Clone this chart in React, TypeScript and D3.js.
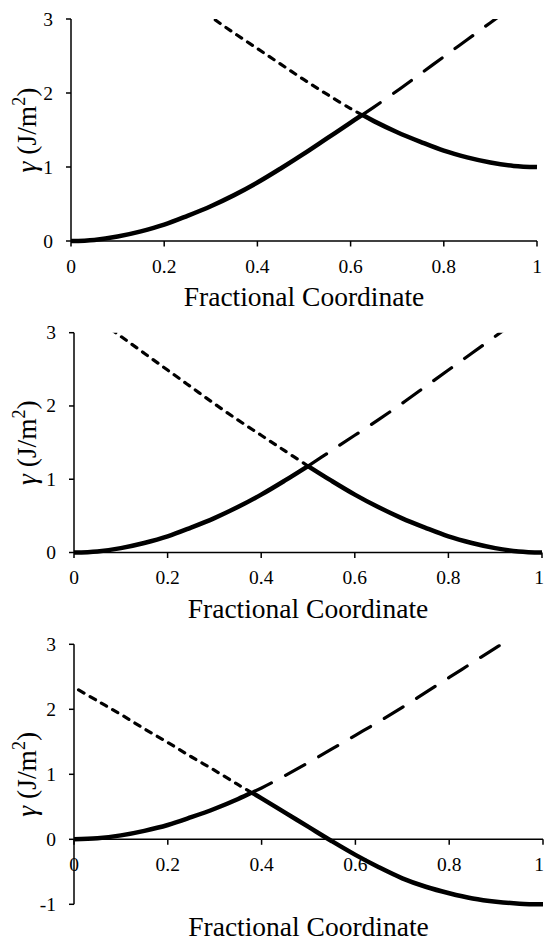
import React from "react";
import * as d3 from "d3";

// fractional coordinate grid and the energies (J/m^2)
const coord = [0, 0.05, 0.1, 0.15, 0.2, 0.25, 0.3, 0.35, 0.4, 0.45, 0.5, 0.55, 0.6, 0.65, 0.7, 0.75, 0.8, 0.85, 0.9, 0.95, 1];
const rising = [0, 0.015, 0.06, 0.13, 0.22, 0.34, 0.47, 0.62, 0.79, 0.98, 1.18, 1.39, 1.6, 1.81, 2.03, 2.26, 2.49, 2.72, 2.95, 3.18, 3.41];
const fallingTop = [4.41, 4.18, 3.95, 3.72, 3.49, 3.26, 3.03, 2.81, 2.6, 2.39, 2.18, 1.98, 1.79, 1.62, 1.47, 1.34, 1.22, 1.13, 1.06, 1.015, 1];
const fallingMid = [3.41, 3.18, 2.95, 2.72, 2.49, 2.26, 2.03, 1.81, 1.6, 1.39, 1.18, 0.98, 0.79, 0.62, 0.47, 0.34, 0.22, 0.13, 0.06, 0.015, 0];
const fallingLow = [2.34, 2.13, 1.92, 1.7, 1.49, 1.27, 1.06, 0.84, 0.63, 0.41, 0.19, -0.03, -0.24, -0.43, -0.6, -0.73, -0.83, -0.91, -0.96, -0.99, -1];

const xTicks = [0, 0.2, 0.4, 0.6, 0.8, 1];
const yTicksPos = [0, 1, 2, 3];
const yTicksNeg = [-1, 0, 1, 2, 3];

const xTitle = "Fractional Coordinate";

const panels = [
  { falling: fallingTop, yTicks: yTicksPos, left: 71, right: 537, top: 19, bottom: 241, titleY: 306 },
  { falling: fallingMid, yTicks: yTicksPos, left: 74, right: 542, top: 332.7, bottom: 552.5, titleY: 618 },
  { falling: fallingLow, yTicks: yTicksNeg, left: 74, right: 543, top: 644.3, bottom: 904.3, titleY: 936 },
];

const W = 545;
const H = 942;
const font = "Liberation Serif";

type Pt = [number, number];

// where the rising curve overtakes the falling one
function crossing(a: number[], b: number[]) {
  for (let i = 0; i < coord.length - 1; i++) {
    const d0 = a[i] - b[i];
    const d1 = a[i + 1] - b[i + 1];
    if (d0 <= 0 && d1 > 0) {
      const t = d0 / (d0 - d1);
      return {
        x: coord[i] + t * (coord[i + 1] - coord[i]),
        y: a[i] + t * (a[i + 1] - a[i]),
      };
    }
  }
  return { x: 1, y: a[a.length - 1] };
}

const Panel = ({ p, id }: { p: (typeof panels)[number]; id: number }) => {
  const x = d3.scaleLinear().domain([0, 1]).range([p.left, p.right]);
  const yMin = d3.min(p.yTicks) as number;
  const y = d3.scaleLinear().domain([yMin, 3]).range([p.bottom, p.top]);

  const line = d3
    .line<Pt>()
    .x((d) => x(d[0]))
    .y((d) => y(d[1]))
    .curve(d3.curveCatmullRom.alpha(0.5));

  const c = crossing(rising, p.falling);
  const cp: Pt = [c.x, c.y];
  const eps = 1e-6;
  const riseL: Pt[] = coord.map((v, i) => [v, rising[i]] as Pt).filter((d) => d[0] < c.x - eps);
  const riseR: Pt[] = coord.map((v, i) => [v, rising[i]] as Pt).filter((d) => d[0] > c.x + eps);
  const fallL: Pt[] = coord.map((v, i) => [v, p.falling[i]] as Pt).filter((d) => d[0] < c.x - eps);
  const fallR: Pt[] = coord.map((v, i) => [v, p.falling[i]] as Pt).filter((d) => d[0] > c.x + eps);

  const axisY = y(0);
  const clipId = `clip-${id}`;

  return (
    <g fontFamily={font}>
      <defs>
        <clipPath id={clipId}>
          <rect x={p.left - 6} y={p.top} width={p.right - p.left + 12} height={p.bottom - p.top + 6} />
        </clipPath>
      </defs>

      {/* axes */}
      <line x1={p.left} x2={p.left} y1={p.top} y2={p.bottom} stroke="#000" strokeWidth={1.5} />
      <line x1={p.left} x2={p.right} y1={axisY} y2={axisY} stroke="#000" strokeWidth={1.5} />
      {p.yTicks.map((t) => (
        <g key={`y${t}`}>
          <line x1={p.left - 5} x2={p.left} y1={y(t)} y2={y(t)} stroke="#000" strokeWidth={1.5} />
          <text x={p.left - 18} y={y(t) + 6.5} textAnchor="end" fontSize={19.5}>
            {t}
          </text>
        </g>
      ))}
      {xTicks.map((t) => (
        <g key={`x${t}`}>
          <line x1={x(t)} x2={x(t)} y1={axisY} y2={axisY + 5.5} stroke="#000" strokeWidth={1.5} />
          <text x={Math.min(x(t), W - 6)} y={axisY + 31.5} textAnchor="middle" fontSize={19.5}>
            {d3.format("")(t)}
          </text>
        </g>
      ))}

      {/* titles */}
      <text x={(p.left + p.right) / 2} y={p.titleY} textAnchor="middle" fontSize={27.5}>
        {xTitle}
      </text>
      <text
        transform={`translate(36,${(p.top + p.bottom) / 2}) rotate(-90)`}
        textAnchor="middle"
        fontSize={27.5}
      >
        <tspan fontStyle="italic">γ</tspan>
        <tspan> (J/m</tspan>
        <tspan fontSize={18} dy={-11}>2</tspan>
        <tspan dy={11}>)</tspan>
      </text>

      {/* curves: dashed continuations first, the solid lower envelope on top */}
      <g clipPath={`url(#${clipId})`} fill="none" stroke="#000">
        <path d={line([cp, ...riseR]) || ""} strokeWidth={3.2} strokeDasharray="22,16" strokeLinecap="round" />
        <path d={line([cp, ...fallL.slice().reverse()]) || ""} strokeWidth={3.2} strokeDasharray="6,7" strokeLinecap="round" />
        <path d={line([...riseL, cp]) || ""} strokeWidth={4.5} />
        <path d={line([cp, ...fallR]) || ""} strokeWidth={4.5} />
      </g>
    </g>
  );
};

export default function App() {
  return (
    <svg width={W} height={H} style={{ position: "absolute", left: 0, top: 0, background: "#fff" }}>
      {panels.map((p, i) => (
        <Panel key={i} p={p} id={i} />
      ))}
    </svg>
  );
}
